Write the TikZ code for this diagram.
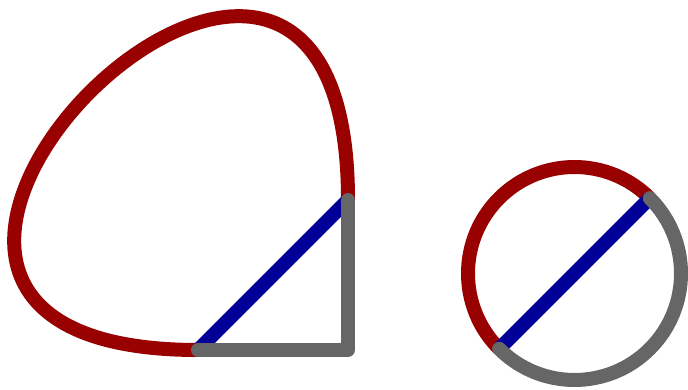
\documentclass[tikz,border=0pt]{standalone}
\definecolor{cred}{HTML}{990000}
\definecolor{cblue}{HTML}{000099}
\definecolor{cgray}{HTML}{666666}
\begin{document}
\begin{tikzpicture}[x=1pt,y=-1pt,
  stroke/.style={line width=14pt},
  redline/.style={stroke,draw=cred},
  blueline/.style={stroke,draw=cblue},
  grayline/.style={stroke,draw=cgray,line cap=round,line join=round}]
\useasboundingbox (0,0) rectangle (688,390);
% left figure
\coordinate (A) at (198,350);
\coordinate (B) at (348,350);
\coordinate (C) at (348,200);
\draw[redline] (C) .. controls (348,-288) and (-290,350) .. (A);
\draw[blueline] (A) -- (C);
\draw[grayline] (A) -- (B) -- (C);
% right figure
\coordinate (O) at (574.5,273.5);
\coordinate (P) at (649.8,198.2);
\coordinate (Q) at (499.2,348.8);
\draw[redline] (P) arc[start angle=-45, end angle=-225, radius=106.5];
\draw[blueline] (Q) -- (P);
\draw[grayline] (Q) arc[start angle=135, end angle=-45, radius=106.5];
\end{tikzpicture}
\end{document}
